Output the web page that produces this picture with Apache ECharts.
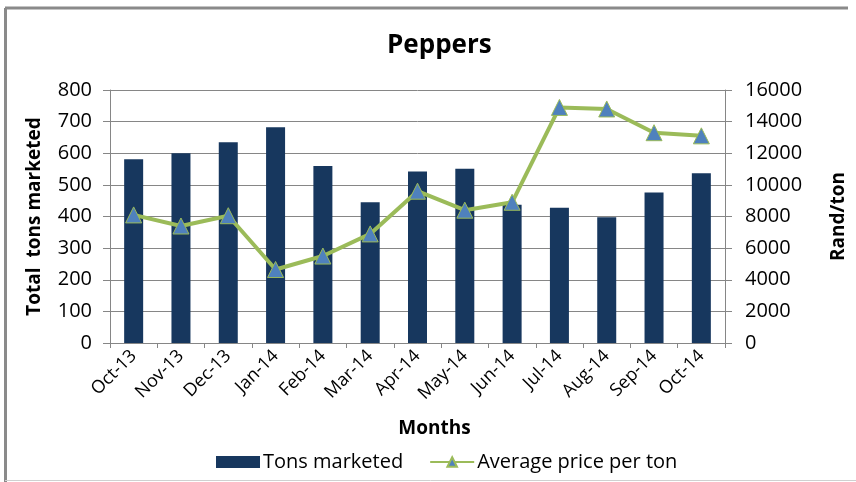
<!DOCTYPE html>
<html><head><meta charset="utf-8">
<script src="https://cdn.jsdelivr.net/npm/echarts@6/dist/echarts.min.js"></script>
<style>html,body{margin:0;padding:0;background:#fff}#c{width:856px;height:482px}</style>
</head><body><div id="c"></div>
<script>
const months = ['Oct-13','Nov-13','Dec-13','Jan-14','Feb-14','Mar-14','Apr-14','May-14','Jun-14','Jul-14','Aug-14','Sep-14','Oct-14'];
const tonsMarketed = [581, 600, 635, 682, 560, 445, 542, 551, 437, 428, 398, 476, 537];
const avgPrice = [8100, 7400, 8050, 4650, 5500, 6900, 9600, 8400, 8900, 14900, 14800, 13300, 13100];
const leftTicks = {min: 0, max: 800, interval: 100};
const rightTicks = {min: 0, max: 16000, interval: 2000};

const FONT = '"Open Sans", sans-serif';
const chart = echarts.init(document.getElementById('c'));
chart.setOption({
  animation: false,
  backgroundColor: '#fff',
  title: {text: 'Peppers', left: 382, top: 28, textStyle: {fontFamily: FONT, fontSize: 26, fontWeight: 'bold', color: '#000'}},
  grid: {left: 110, right: 118, top: 90, bottom: 139},
  legend: {
    top: 447, left: 211, itemGap: 26, itemWidth: 44, itemHeight: 12,
    textStyle: {fontFamily: FONT, fontSize: 20, color: '#000', padding: [0, 0, 0, -2]},
    data: [{name: 'Tons marketed', icon: 'rect'}, {name: 'Average price per ton'}]
  },
  xAxis: {
    type: 'category', data: months,
    name: 'Months', nameLocation: 'middle', nameGap: 76,
    nameTextStyle: {fontFamily: FONT, fontSize: 19, fontWeight: 'bold', color: '#000', padding: [0, 0, 0, 34]},
    axisLine: {lineStyle: {color: '#868686'}},
    axisTick: {show: true, lineStyle: {color: '#868686'}},
    axisLabel: {rotate: 45, fontFamily: FONT, fontSize: 18, color: '#000', margin: 10, interval: 0}
  },
  yAxis: [{
    type: 'value', min: leftTicks.min, max: leftTicks.max, interval: leftTicks.interval,
    name: 'Total  tons marketed', nameLocation: 'middle', nameGap: 66, nameRotate: 90,
    nameTextStyle: {fontFamily: FONT, fontSize: 19, fontWeight: 'bold', color: '#000'},
    axisLine: {show: true, lineStyle: {color: '#868686'}},
    axisTick: {show: true, length: 7, lineStyle: {color: '#868686'}},
    axisLabel: {fontFamily: FONT, fontSize: 20, color: '#000', margin: 18},
    splitLine: {lineStyle: {color: '#868686', width: 1}}
  }, {
    type: 'value', min: rightTicks.min, max: rightTicks.max, interval: rightTicks.interval,
    name: 'Rand/ton', nameLocation: 'middle', nameGap: 104, nameRotate: 90,
    nameTextStyle: {fontFamily: FONT, fontSize: 19, fontWeight: 'bold', color: '#000'},
    axisLine: {show: true, lineStyle: {color: '#868686'}},
    axisTick: {show: true, length: 7, lineStyle: {color: '#868686'}},
    axisLabel: {fontFamily: FONT, fontSize: 20, color: '#000', margin: 20, formatter: v => String(v)},
    splitLine: {show: false}
  }],
  series: [{
    name: 'Tons marketed', type: 'bar', data: tonsMarketed, barWidth: 19,
    itemStyle: {color: '#17375E'}
  }, {
    name: 'Average price per ton', type: 'line', yAxisIndex: 1, data: avgPrice,
    symbol: 'triangle', symbolSize: 16,
    lineStyle: {color: '#9BBB59', width: 4},
    itemStyle: {color: '#4F81BD', borderColor: '#9BBB59', borderWidth: 1}
  }],
  graphic: [
    {type: 'line', shape: {x1: 5.5, y1: 8, x2: 5.5, y2: 482}, style: {stroke: '#8a8a8a', lineWidth: 3}},
    {type: 'line', shape: {x1: 5, y1: 8, x2: 848, y2: 8}, style: {stroke: '#8a8a8a', lineWidth: 3}},
    {type: 'line', shape: {x1: 5, y1: 480.5, x2: 856, y2: 480.5}, style: {stroke: '#d0d0d0', lineWidth: 1}}
  ]
});
</script></body></html>
